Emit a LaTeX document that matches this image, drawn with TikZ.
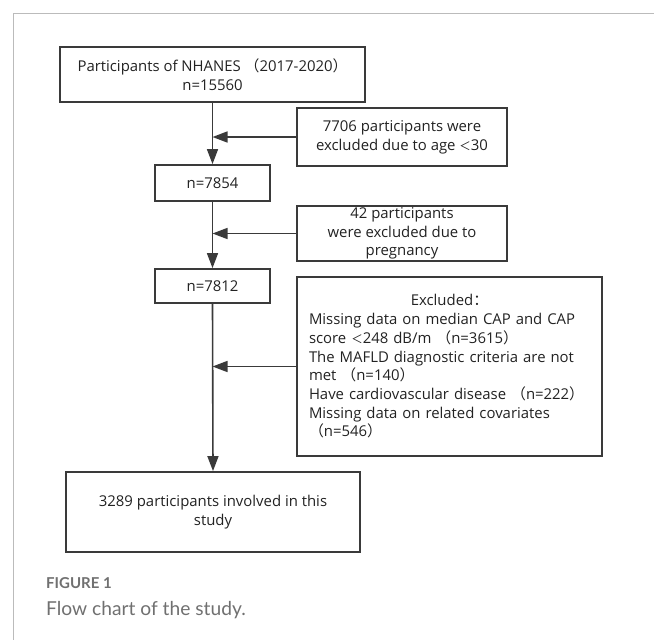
\documentclass[tikz,border=0pt]{standalone}
\usepackage{fontspec}
\setmainfont{Open Sans}
\newfontfamily\cjk{Noto Sans CJK SC}
\newfontfamily\capfont{Lato}
\usetikzlibrary{arrows.meta}
\newcommand{\flp}{{\cjk （}}
\newcommand{\frp}{{\cjk ）}}
\newcommand{\flt}{{\cjk\fontsize{11.5}{11.5}\selectfont ＜}}
\newcommand{\fcol}{{\cjk ：}}
\definecolor{boxline}{HTML}{3A3A3A}
\definecolor{txt}{HTML}{222222}
\definecolor{framegray}{HTML}{BBBBBB}
\definecolor{capgray}{HTML}{707070}
\begin{document}
\begin{tikzpicture}[x=1pt,y=-1pt,
  box/.style={draw=boxline,line width=1.8pt,inner sep=0pt,align=center,text=txt,
    font=\fontsize{14.9}{18.7}\selectfont},
  arr/.style={draw=boxline,line width=1.6pt,-{Triangle[length=15pt,width=11pt]}},
  frameline/.style={draw=framegray,line width=1pt}]
\useasboundingbox (0,0) rectangle (654,640);
\draw[frameline] (654,13) -- (13,13) -- (13,640);

\node[box,minimum width=305pt,minimum height=55pt] (b1) at (212.5,74.5)
  {Participants of NHANES \flp 2017-2020\frp\\n=15560};
\node[box,minimum width=210pt,minimum height=58pt] (e1) at (402,137)
  {7706 participants were\\excluded due to age \flt 30};
\node[box,minimum width=115pt,minimum height=36pt] (b2) at (212.5,183) {n=7854};
\node[box,minimum width=210pt,minimum height=55pt] (e2) at (402,233.5)
  {42 participants\\were excluded due to\\pregnancy};
\node[box,minimum width=115pt,minimum height=34pt] (b3) at (212.5,286) {n=7812};
\node[box,minimum width=305pt,minimum height=179pt,text width=281pt,align=left] (e3) at (449.5,366.5)
  {{\centering Excluded\fcol\par}
   Missing data on median CAP and CAP\\
   score \flt 248 dB/m \flp n=3615\frp\\
   The MAFLD diagnostic criteria are not\\
   met \flp n=140\frp\\
   Have cardiovascular disease \flp n=222\frp\\
   Missing data on related covariates\\
   \flp n=546\frp};
\node[box,minimum width=294pt,minimum height=80pt] (b4) at (213,512)
  {3289 participants involved in this\\study};

\draw[arr] (b1.south) -- (b2.north);
\draw[arr] (b2.south) -- (b3.north);
\draw[arr] (b3.south) -- (b4.north);
\draw[arr] (e1.west) -- (e1.west -| b1.south);
\draw[arr] (e2.west) -- (e2.west -| b1.south);
\draw[arr] (e3.west) -- (e3.west -| b1.south);

\node[anchor=base west,inner sep=0pt,text=capgray,font=\capfont\bfseries\fontsize{15}{18}\selectfont] (cap1) at (46,588) {FIGURE 1};
\node[anchor=base west,inner sep=0pt,text=capgray,font=\capfont\fontsize{19.2}{22}\selectfont] (cap2) at (46,615) {Flow chart of the study.};
\end{tikzpicture}
\end{document}
